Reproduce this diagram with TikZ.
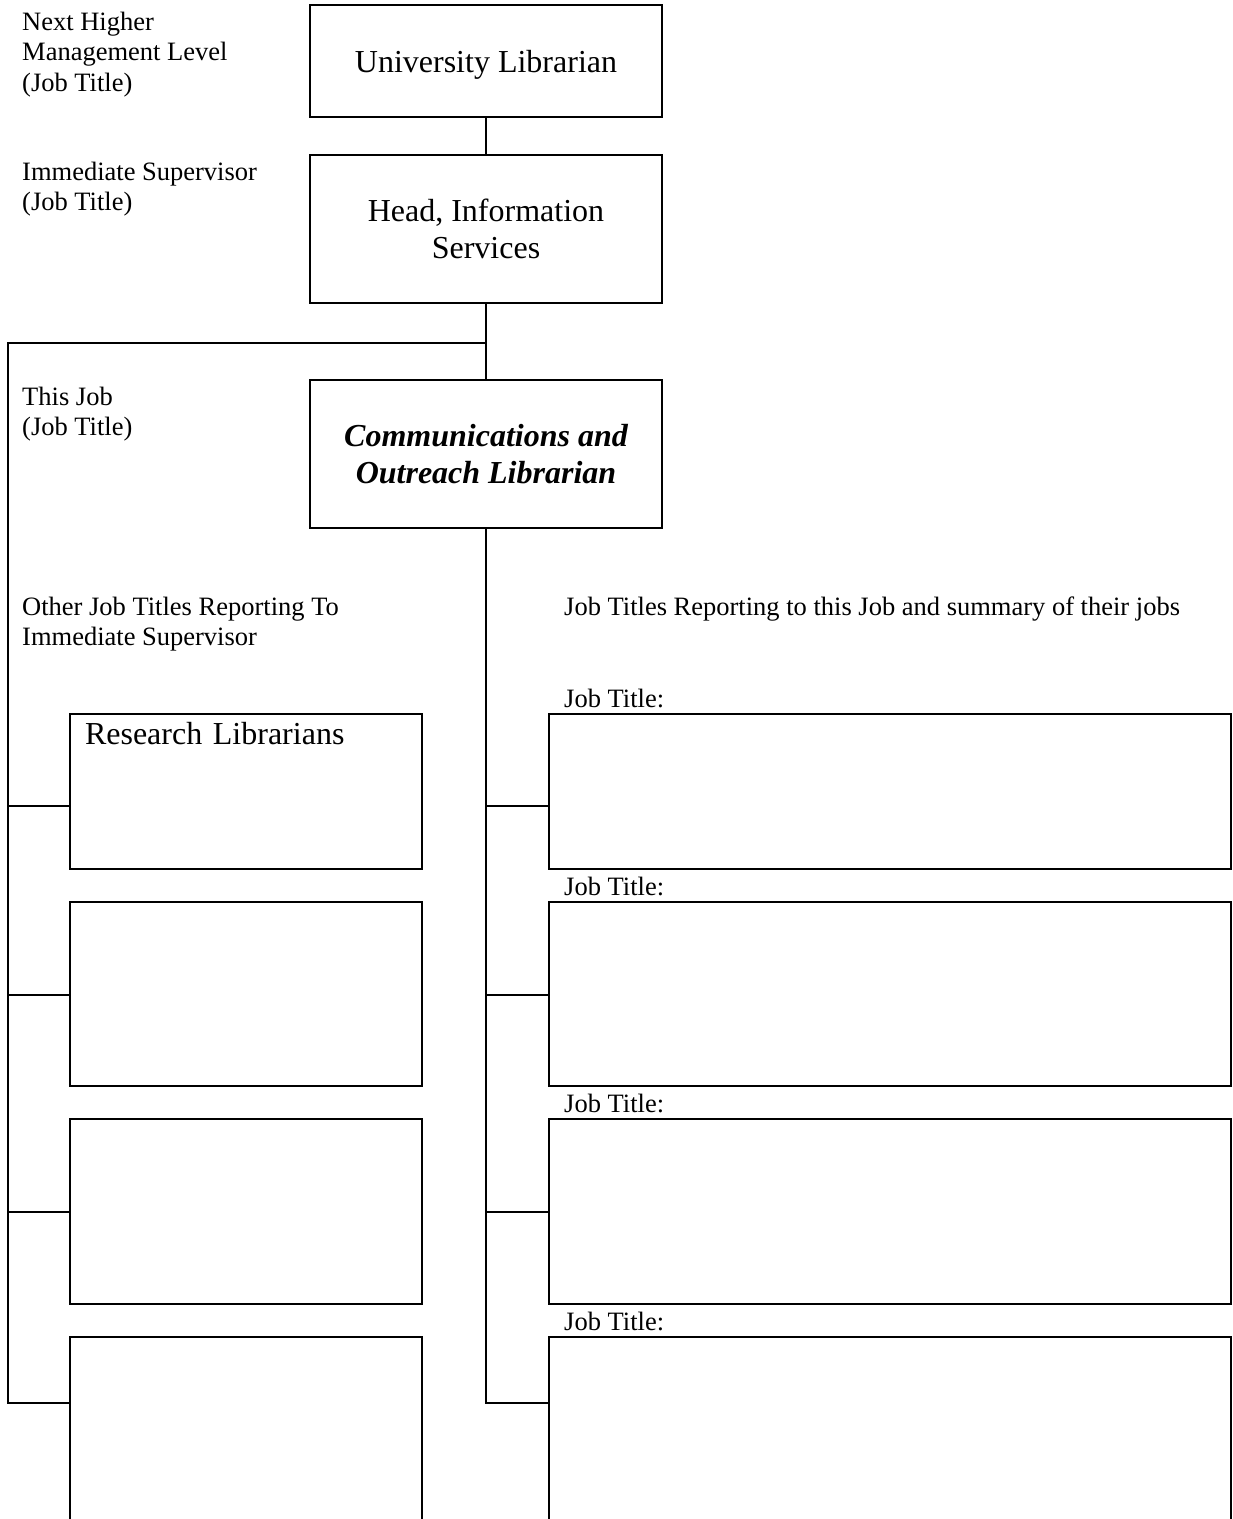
\documentclass[tikz,border=0pt]{standalone}
\usepackage{fontspec}
\setmainfont{Liberation Serif}
\begin{document}
\begin{tikzpicture}[x=1pt,y=-1pt,
  box/.style={draw, line width=2pt, inner sep=0pt, align=center, font=\fontsize{32}{36.8}\selectfont},
  lbl/.style={inner sep=0pt, anchor=north west, align=left, font=\fontsize{26.5}{30.5}\selectfont},
  conn/.style={line width=2pt}]
\useasboundingbox (0,0) rectangle (1233,1519);
\clip (0,0) rectangle (1233,1519);
\fill[white] (0,0) rectangle (1233,1519);

% main chain
\node[box, minimum width=352pt, minimum height=112pt, text depth=0pt] (ul) at (486,61) {University Librarian};
\node[box, minimum width=352pt, minimum height=148pt] (hi) at (486,229) {Head, Information\\Services};
\node[box, minimum width=352pt, minimum height=148pt, font=\fontsize{32}{36.8}\selectfont\bfseries\itshape] (cl) at (486,454) {Communications and\\Outreach Librarian};

% left boxes
\node[box, minimum width=352pt, minimum height=155pt, text width=322pt, inner xsep=15pt, align=left, text height=10pt, text depth=105pt] (L1) at (246,791.5) {Research Librarians};
\node[box, minimum width=352pt, minimum height=184pt] (L2) at (246,994) {};
\node[box, minimum width=352pt, minimum height=185pt] (L3) at (246,1211.5) {};
\node[box, minimum width=352pt, minimum height=200pt] (L4) at (246,1437) {};

% right boxes
\node[box, minimum width=682pt, minimum height=155pt] (R1) at (890,791.5) {};
\node[box, minimum width=682pt, minimum height=184pt] (R2) at (890,994) {};
\node[box, minimum width=682pt, minimum height=185pt] (R3) at (890,1211.5) {};
\node[box, minimum width=682pt, minimum height=200pt] (R4) at (890,1437) {};

% labels
\node[lbl] (t1) at (22,11.9) {Next Higher\\Management Level\\(Job Title)};
\node[lbl] (t2) at (22,161.9) {Immediate Supervisor\\(Job Title)};
\node[lbl] (t3) at (22,386.9) {This Job\\(Job Title)};
\node[lbl] (t4) at (22,596.9) {Other Job Titles Reporting To\\Immediate Supervisor};
\node[lbl] (t5) at (564,596.9) {Job Titles Reporting to this Job and summary of their jobs};
\node[lbl] (jt1) at (564,688.9) {Job Title:};
\node[lbl] (jt2) at (564,876.9) {Job Title:};
\node[lbl] (jt3) at (564,1093.9) {Job Title:};
\node[lbl] (jt4) at (564,1311.9) {Job Title:};

% connectors
\draw[conn] (ul) -- (hi);
\draw[conn] (hi) -- (cl);
\coordinate (j) at (486,343);
\coordinate (lt) at (8,343);
\coordinate (lb) at (8,1403);
\draw[conn] (j) -- (lt) -- (lb) -- (lb -| L4.west);
\coordinate (l1) at (8,806);
\coordinate (l2) at (8,995);
\coordinate (l3) at (8,1212);
\draw[conn] (l1) -- (l1 -| L1.west);
\draw[conn] (l2) -- (l2 -| L2.west);
\draw[conn] (l3) -- (l3 -| L3.west);
\coordinate (rb) at (486,1403);
\draw[conn] (cl) -- (rb) -- (rb -| R4.west);
\coordinate (r1) at (486,806);
\coordinate (r2) at (486,995);
\coordinate (r3) at (486,1212);
\draw[conn] (r1) -- (r1 -| R1.west);
\draw[conn] (r2) -- (r2 -| R2.west);
\draw[conn] (r3) -- (r3 -| R3.west);
\end{tikzpicture}
\end{document}
